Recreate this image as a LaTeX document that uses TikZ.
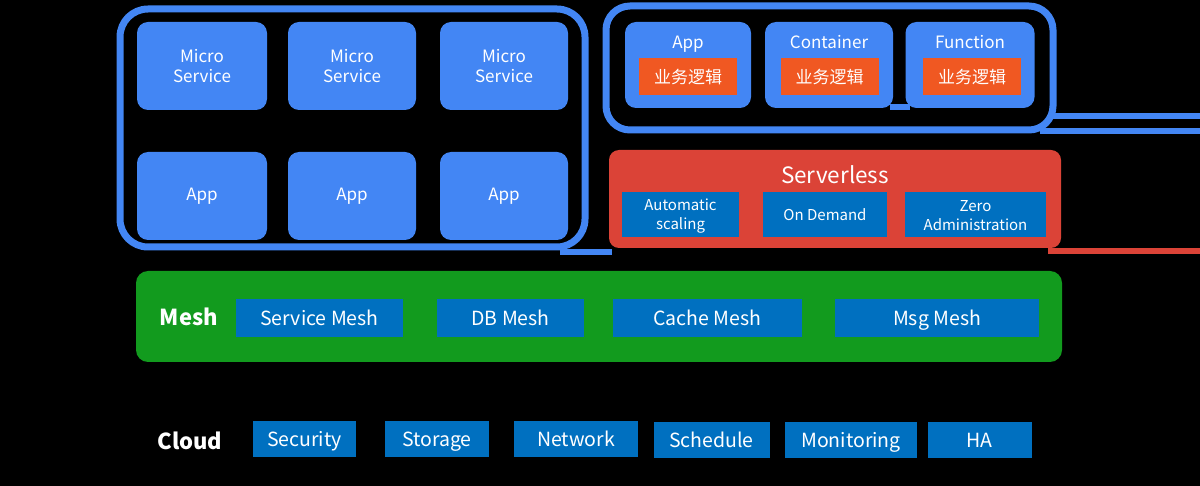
\documentclass[tikz,border=0pt]{standalone}
\usepackage{fontspec}
\setmainfont{Noto Sans CJK SC}
\definecolor{lblue}{RGB}{67,134,244}
\definecolor{dblue}{RGB}{0,112,192}
\definecolor{orng}{RGB}{240,88,34}
\definecolor{rred}{RGB}{219,67,55}
\definecolor{ggreen}{RGB}{18,155,30}
\tikzset{
  lbox/.style={fill=lblue, rounded corners=11pt, inner sep=0pt, text=white, font=\fontsize{17}{20}\selectfont, align=center},
  obox/.style={fill=orng, inner sep=0pt, text=white, font=\fontsize{17}{20}\selectfont, minimum width=98pt, minimum height=37pt, text height=15pt, text depth=0pt},
  dbox/.style={fill=dblue, inner sep=0pt, text=white, align=center},
  sbox/.style={dbox, minimum height=45pt},
  stxt/.style={text=white, inner sep=0pt, align=center, font=\fontsize{15}{19}\selectfont},
  mbox/.style={dbox, font=\fontsize{19.5}{22}\selectfont, minimum height=38pt, text height=17pt, text depth=1pt},
  cbox/.style={dbox, font=\fontsize{19.5}{22}\selectfont, minimum height=36pt, text height=16.5pt, text depth=1.5pt},
  ttl/.style={text=white, font=\fontsize{17}{20}\selectfont, inner sep=0pt, text height=12pt, text depth=3pt},
  frame/.style={draw=lblue, line width=7pt, rounded corners=28pt},
  heading/.style={text=white, font=\bfseries\fontsize{22}{26}\selectfont, inner sep=0pt, text height=16pt, text depth=0pt},
}
\begin{document}
\begin{tikzpicture}[x=1pt,y=-1pt]
\fill[black] (0,0) rectangle (1200,486);
\useasboundingbox (0,0) rectangle (1200,486);

% outer frames of the two upper groups
\draw[frame] (120,9) rectangle (585,247);
\draw[frame, rounded corners=24pt] (606,6) rectangle (1053,130);
\draw[lblue, line width=6pt] (1052,116) -- (1200,116);
\draw[lblue, line width=6pt] (1040,131) -- (1200,131);
\draw[lblue, line width=6pt] (560,252) -- (612,252);

% micro services and apps
\node[lbox, minimum width=130pt, minimum height=88pt] (ms1) at (202,66) {Micro\\Service};
\node[lbox, minimum width=128pt, minimum height=88pt] (ms2) at (352,66) {Micro\\Service};
\node[lbox, minimum width=128pt, minimum height=88pt] (ms3) at (504,66) {Micro\\Service};
\node[lbox, minimum width=130pt, minimum height=88pt] (ap1) at (202,196) {App};
\node[lbox, minimum width=128pt, minimum height=88pt] (ap2) at (352,196) {App};
\node[lbox, minimum width=128pt, minimum height=88pt] (ap3) at (504,196) {App};

% runtime forms with business logic
\fill[lblue] (890,104) rectangle (910,110);
\node[lbox, minimum width=126pt, minimum height=86pt] (rt1) at (688,65) {};
\node[lbox, minimum width=128pt, minimum height=86pt] (rt2) at (829,65) {};
\node[lbox, minimum width=129pt, minimum height=86pt] (rt3) at (970,65) {};
\node[ttl] (t1) at (688,44) {App};
\node[ttl] (t2) at (829,44) {Container};
\node[ttl] (t3) at (970,44) {Function};
\node[obox] (bl1) at (688,76.5) {业务逻辑};
\node[obox] (bl2) at (829.5,76.5) {业务逻辑};
\node[obox] (bl3) at (972,76.5) {业务逻辑};

% serverless
\draw[rred, line width=6pt] (1048,251) -- (1200,251);
\node[fill=rred, rounded corners=10pt, minimum width=452pt, minimum height=98pt, inner sep=0pt] (sl) at (835,199) {};
\node[text=white, font=\fontsize{22.5}{26}\selectfont, inner sep=0pt, text height=16pt, text depth=0pt] (slt) at (835,176) {Serverless};
\node[sbox, minimum width=117pt] (s1) at (680.5,214.5) {};
\node[sbox, minimum width=124pt] (s2) at (825,214.5) {};
\node[sbox, minimum width=141pt] (s3) at (975.5,214.5) {};
\node[stxt] (s1t) at (680.5,216) {Automatic\\scaling};
\node[stxt, text height=13pt, text depth=1pt] (s2t) at (825,214.5) {On Demand};
\node[stxt] (s3t) at (975.5,216) {Zero\\Administration};

% mesh layer
\node[fill=ggreen, rounded corners=12pt, minimum width=926pt, minimum height=91pt, inner sep=0pt] (mesh) at (599,316.5) {};
\node[heading] (mt) at (189,318) {Mesh};
\node[mbox, minimum width=167pt] (m1) at (319.5,318) {Service Mesh};
\node[mbox, minimum width=147pt] (m2) at (510.5,318) {DB Mesh};
\node[mbox, minimum width=189pt] (m3) at (707.5,318) {Cache Mesh};
\node[mbox, minimum width=204pt] (m4) at (937,318) {Msg Mesh};

% cloud layer
\node[heading] (ct) at (190,441) {Cloud};
\node[cbox, minimum width=103pt] (c1) at (304.5,439) {Security};
\node[cbox, minimum width=104pt] (c2) at (437,439) {Storage};
\node[cbox, minimum width=124pt] (c3) at (576,439) {Network};
\node[cbox, minimum width=116pt] (c4) at (711.5,440) {Schedule};
\node[cbox, minimum width=132pt] (c5) at (851,440) {Monitoring};
\node[cbox, minimum width=104pt] (c6) at (979.5,440) {HA};
\end{tikzpicture}
\end{document}
